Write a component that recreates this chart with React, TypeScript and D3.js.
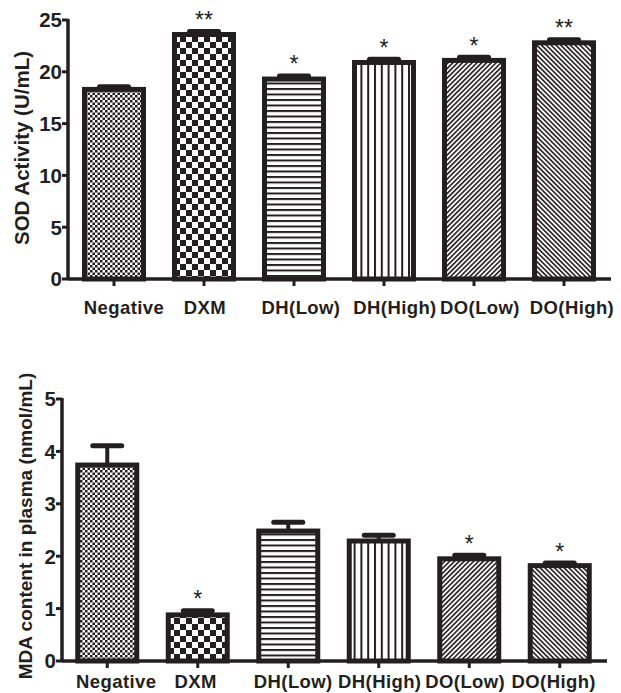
import React from "react";
import * as d3 from "d3";

const categories = ["Negative", "DXM", "DH(Low)", "DH(High)", "DO(Low)", "DO(High)"];

const sodValues = [18.3, 23.6, 19.3, 20.9, 21.1, 22.8];
const sodErrors = [0.25, 0.3, 0.3, 0.3, 0.3, 0.3];
const sodStars = ["", "**", "*", "*", "*", "**"];
const sodTicks = [0, 5, 10, 15, 20, 25];
const sodTitle = "SOD Activity (U/mL)";

const mdaValues = [3.74, 0.88, 2.48, 2.29, 1.95, 1.82];
const mdaErrors = [0.37, 0.08, 0.17, 0.11, 0.07, 0.05];
const mdaStars = ["", "*", "", "", "*", "*"];
const mdaTicks = [0, 1, 2, 3, 4, 5];
const mdaTitle = "MDA content in plasma (nmol/mL)";

const patternIds = ["fineChecker", "coarseChecker", "hLines", "vLines", "diagUp", "diagDown"];

const INK = "#231f20";
const FONT = "'Liberation Sans', Arial, Helvetica, sans-serif";

type PanelProps = {
  values: number[];
  errors: number[];
  stars: string[];
  ticks: number[];
  title: string;
  axisX: number;
  yTop: number;
  yBottom: number;
  xEnd: number;
  pointRange: [number, number];
  labelBaseline: number;
  titleX: number;
  titleY: number;
  titleSize: number;
  labelOffsets: number[];
};

function Panel(p: PanelProps) {
  const y = d3
    .scaleLinear()
    .domain([0, d3.max(p.ticks) as number])
    .range([p.yBottom, p.yTop]);
  const x = d3.scalePoint<string>().domain(categories).range(p.pointRange).padding(0.5);
  const halfBar = 29.5;
  const capHalf = 14.5;
  return (
    <g>
      {categories.map((c, i) => {
        const cx = x(c) as number;
        const top = y(p.values[i] + p.errors[i]);
        return (
          <g key={"e" + c}>
            <line x1={cx} x2={cx} y1={y(p.values[i])} y2={top} stroke={INK} strokeWidth={4} />
            <line
              x1={cx - capHalf}
              x2={cx + capHalf}
              y1={top}
              y2={top}
              stroke={INK}
              strokeWidth={5}
              strokeLinecap="round"
            />
          </g>
        );
      })}
      {categories.map((c, i) => {
        const cx = x(c) as number;
        return (
          <g key={"b" + c}>
            <rect
              x={cx - halfBar}
              y={y(p.values[i])}
              width={halfBar * 2}
              height={y(0) - y(p.values[i])}
              fill="#fff"
            />
            <rect
              x={cx - halfBar}
              y={y(p.values[i])}
              width={halfBar * 2}
              height={y(0) - y(p.values[i])}
              fill={`url(#${patternIds[i]})`}
              stroke={INK}
              strokeWidth={5}
            />
          </g>
        );
      })}
      {categories.map((c, i) =>
        p.stars[i] ? (
          <text
            key={"s" + c}
            x={x(c) as number}
            y={y(p.values[i] + p.errors[i]) - 2.5 - 14 + 13}
            textAnchor="middle"
            fontFamily={FONT}
            fontSize={23}
            fill={INK}
          >
            {p.stars[i]}
          </text>
        ) : null
      )}
      <line x1={p.axisX} x2={p.axisX} y1={p.yTop - 1} y2={p.yBottom} stroke={INK} strokeWidth={3.5} />
      {p.ticks.map((t) => (
        <g key={"t" + t}>
          <line x1={p.axisX - 6} x2={p.axisX} y1={y(t)} y2={y(t)} stroke={INK} strokeWidth={3} />
          <text
            x={p.axisX - 6}
            y={y(t)}
            dy="0.36em"
            textAnchor="end"
            fontFamily={FONT}
            fontWeight="bold"
            fontSize={20.5}
            fill={INK}
          >
            {t}
          </text>
        </g>
      ))}
      <line x1={p.axisX} x2={p.xEnd} y1={p.yBottom} y2={p.yBottom} stroke={INK} strokeWidth={3.5} />
      {categories.map((c, i) => {
        const cx = x(c) as number;
        return (
          <g key={"x" + c}>
            <line x1={cx} x2={cx} y1={p.yBottom} y2={p.yBottom + 7} stroke={INK} strokeWidth={3} />
            <text
              x={cx + p.labelOffsets[i]}
              y={p.labelBaseline}
              textAnchor="middle"
              fontFamily={FONT}
              fontWeight="bold"
              fontSize={18.5}
              letterSpacing={0.4}
              fill={INK}
            >
              {c}
            </text>
          </g>
        );
      })}
      <text
        transform={`translate(${p.titleX},${p.titleY}) rotate(-90)`}
        dy="0.35em"
        textAnchor="middle"
        fontFamily={FONT}
        fontWeight="bold"
        fontSize={p.titleSize}
        fill={INK}
      >
        {p.title}
      </text>
    </g>
  );
}

export default function App() {
  return (
    <svg
      width={621}
      height={693}
      style={{ position: "absolute", left: 0, top: 0, background: "#fff" }}
      xmlns="http://www.w3.org/2000/svg"
    >
      <defs>
        <pattern id="fineChecker" patternUnits="userSpaceOnUse" width={5} height={5}>
          <rect width={5} height={5} fill="#fff" />
          <rect width={2.5} height={2.5} fill={INK} />
          <rect x={2.5} y={2.5} width={2.5} height={2.5} fill={INK} />
        </pattern>
        <pattern id="coarseChecker" patternUnits="userSpaceOnUse" width={12} height={12}>
          <rect width={12} height={12} fill="#fff" />
          <rect width={6} height={6} fill={INK} />
          <rect x={6} y={6} width={6} height={6} fill={INK} />
        </pattern>
        <pattern id="hLines" patternUnits="userSpaceOnUse" width={10} height={5.5}>
          <rect width={10} height={5.5} fill="#fff" />
          <rect width={10} height={2} fill={INK} />
        </pattern>
        <pattern id="vLines" patternUnits="userSpaceOnUse" width={6.8} height={10}>
          <rect width={6.8} height={10} fill="#fff" />
          <rect width={2} height={10} fill={INK} />
        </pattern>
        <pattern
          id="diagUp"
          patternUnits="userSpaceOnUse"
          width={3.4}
          height={10}
          patternTransform="rotate(45)"
        >
          <rect width={3.4} height={10} fill="#fff" />
          <rect width={1.6} height={10} fill={INK} />
        </pattern>
        <pattern
          id="diagDown"
          patternUnits="userSpaceOnUse"
          width={3.4}
          height={10}
          patternTransform="rotate(-45)"
        >
          <rect width={3.4} height={10} fill="#fff" />
          <rect width={1.6} height={10} fill={INK} />
        </pattern>
      </defs>
      <Panel
        values={sodValues}
        errors={sodErrors}
        stars={sodStars}
        ticks={sodTicks}
        title={sodTitle}
        axisX={68}
        yTop={20}
        yBottom={279}
        xEnd={611}
        pointRange={[69, 609]}
        labelBaseline={314}
        titleX={22}
        titleY={148}
        titleSize={20.5}
        labelOffsets={[10, 1, 7, 11, 6, 8]}
      />
      <Panel
        values={mdaValues}
        errors={mdaErrors}
        stars={mdaStars}
        ticks={mdaTicks}
        title={mdaTitle}
        axisX={62}
        yTop={399}
        yBottom={661}
        xEnd={607}
        pointRange={[62, 605]}
        labelBaseline={688}
        titleX={25}
        titleY={526}
        titleSize={19}
        labelOffsets={[9, -2, 5, 1, -4, -6]}
      />
    </svg>
  );
}
